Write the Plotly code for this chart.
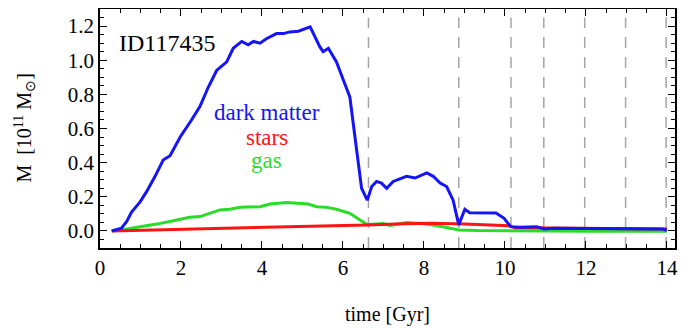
import plotly.graph_objects as go

t_dm = [0.29, 0.53, 0.66, 0.78, 0.99, 1.15, 1.36, 1.56, 1.73, 1.98, 2.26, 2.47, 2.67, 2.88, 3.13, 3.29, 3.50, 3.66, 3.79, 3.95, 4.12, 4.36, 4.53, 4.69, 4.90, 5.06, 5.19, 5.43, 5.51, 5.64, 5.84, 6.00, 6.17, 6.34, 6.46, 6.60, 6.71, 6.83, 6.95, 7.08, 7.24, 7.57, 7.78, 8.07, 8.23, 8.40, 8.56, 8.72, 8.86, 9.01, 9.13, 9.78, 9.98, 10.14, 10.37, 10.78, 10.97, 11.19, 11.85, 12.84, 13.00, 13.90, 14.00]
m_dm = [0.0, 0.016, 0.055, 0.11, 0.17, 0.23, 0.32, 0.415, 0.44, 0.55, 0.65, 0.73, 0.84, 0.94, 0.99, 1.07, 1.11, 1.09, 1.11, 1.10, 1.127, 1.156, 1.156, 1.166, 1.17, 1.185, 1.195, 1.078, 1.05, 1.07, 0.99, 0.89, 0.785, 0.47, 0.25, 0.18, 0.26, 0.29, 0.28, 0.25, 0.29, 0.32, 0.31, 0.34, 0.32, 0.28, 0.26, 0.18, 0.035, 0.127, 0.107, 0.105, 0.074, 0.025, 0.022, 0.025, 0.012, 0.016, 0.015, 0.013, 0.011, 0.011, 0.004]

t_gas = [0.29, 0.53, 0.99, 1.40, 1.81, 2.22, 2.47, 2.72, 2.96, 3.21, 3.46, 3.95, 4.20, 4.61, 5.14, 5.35, 5.60, 5.84, 6.17, 6.42, 6.60, 7.00, 7.16, 7.57, 8.07, 8.56, 8.86, 9.35, 10.0, 12.0, 14.0]
m_gas = [0.0, 0.005, 0.025, 0.04, 0.06, 0.08, 0.084, 0.103, 0.123, 0.127, 0.138, 0.142, 0.158, 0.166, 0.158, 0.142, 0.138, 0.127, 0.103, 0.064, 0.038, 0.043, 0.032, 0.05, 0.04, 0.02, 0.006, 0.002, 0.0, -0.002, -0.002]

t_st = [0.29, 2.22, 5.19, 6.60, 7.50, 8.20, 9.00, 10.10, 10.25, 11.00, 14.00]
m_st = [0.0, 0.01, 0.025, 0.035, 0.042, 0.045, 0.04, 0.031, 0.018, 0.016, 0.012]

peri_times = [6.63, 8.86, 10.15, 10.96, 11.97, 12.98, 13.98]

x_ticks = [0, 2, 4, 6, 8, 10, 12, 14]
y_ticks = [0.0, 0.2, 0.4, 0.6, 0.8, 1.0, 1.2]
y_ticklabels = ["0.0", "0.2", "0.4", "0.6", "0.8", "1.0", "1.2"]

BLUE = "rgb(20,20,245)"
RED = "rgb(250,20,20)"
GREEN = "rgb(40,220,40)"
FONT = "Liberation Serif, Times New Roman, serif"

fig = go.Figure()
for tp in peri_times:
    fig.add_trace(go.Scatter(x=[tp, tp], y=[-0.1, 1.25], mode="lines", hoverinfo="skip",
                             line=dict(color="rgb(165,165,165)", width=1.5, dash="11px,9px")))
fig.add_trace(go.Scatter(x=t_gas, y=m_gas, mode="lines", line=dict(color=GREEN, width=3), name="gas"))
fig.add_trace(go.Scatter(x=t_st, y=m_st, mode="lines", line=dict(color=RED, width=3), name="stars"))
fig.add_trace(go.Scatter(x=t_dm, y=m_dm, mode="lines", line=dict(color=BLUE, width=3), name="dark matter"))

fig.add_annotation(x=0.03, y=0.858, xref="paper", yref="paper", text="ID117435", showarrow=False,
                   xanchor="left", yanchor="middle", font=dict(family=FONT, size=24, color="black"))
fig.add_annotation(x=0.29, y=0.567, xref="paper", yref="paper", text="dark matter", showarrow=False,
                   xanchor="center", yanchor="middle", font=dict(family=FONT, size=23, color=BLUE))
fig.add_annotation(x=0.29, y=0.463, xref="paper", yref="paper", text="stars", showarrow=False,
                   xanchor="center", yanchor="middle", font=dict(family=FONT, size=23, color=RED))
fig.add_annotation(x=0.29, y=0.367, xref="paper", yref="paper", text="gas", showarrow=False,
                   xanchor="center", yanchor="middle", font=dict(family=FONT, size=23, color=GREEN))
# y-axis title
fig.add_annotation(x=-0.132, y=0.5, xref="paper", yref="paper",
                   text="M  [10<sup>11</sup> M<sub>⊙</sub>]", showarrow=False, textangle=-90,
                   xanchor="center", yanchor="middle", font=dict(family=FONT, size=20, color="black"))

axis_common = dict(showline=True, linecolor="black", linewidth=1.5, mirror="allticks",
                   ticks="inside", ticklen=7, tickwidth=1, tickcolor="black",
                   showgrid=False, zeroline=False,
                   tickfont=dict(family=FONT, size=21, color="black"))

fig.update_xaxes(range=[0, 14.2], tickvals=x_ticks, ticktext=[str(v) for v in x_ticks],
                 minor=dict(dtick=0.5, ticks="inside", ticklen=4, tickcolor="black", showgrid=False),
                 title=dict(text="time [Gyr]", font=dict(family=FONT, size=20, color="black"), standoff=28),
                 **axis_common)
fig.update_yaxes(range=[-0.1, 1.3], tickvals=y_ticks, ticktext=y_ticklabels,
                 minor=dict(dtick=0.05, ticks="inside", ticklen=4, tickcolor="black", showgrid=False),
                 **axis_common)

# the page body has an 8px default margin: compensate in the margins
fig.update_layout(width=697, height=328, margin=dict(l=92, r=30, t=1, b=88, autoexpand=False),
                  plot_bgcolor="white", paper_bgcolor="white", showlegend=False)

fig.write_html("out.html")
